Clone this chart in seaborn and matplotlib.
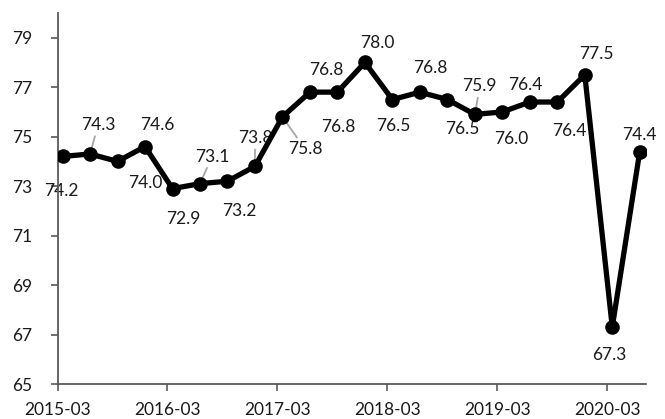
import matplotlib
matplotlib.use("Agg")
import matplotlib.pyplot as plt
import seaborn as sns
import pandas as pd

# ---- data ----
quarters = ["2015-03", "2015-06", "2015-09", "2015-12",
            "2016-03", "2016-06", "2016-09", "2016-12",
            "2017-03", "2017-06", "2017-09", "2017-12",
            "2018-03", "2018-06", "2018-09", "2018-12",
            "2019-03", "2019-06", "2019-09", "2019-12",
            "2020-03", "2020-06"]
values = [74.2, 74.3, 74.0, 74.6, 72.9, 73.1, 73.2, 73.8, 75.8, 76.8, 76.8,
          78.0, 76.5, 76.8, 76.5, 75.9, 76.0, 76.4, 76.4, 77.5, 67.3, 74.4]
tick_labels = ["2015-03", "2016-03", "2017-03", "2018-03", "2019-03", "2020-03"]
y_ticks = [65, 67, 69, 71, 73, 75, 77, 79]

# months since 2015-03 (points sit mid-month, ticks at month start)
xpos = [0.55 + 3 * i for i in range(len(values))]
tick_pos = [12 * i for i in range(len(tick_labels))]
df = pd.DataFrame({"x": xpos, "v": values, "q": quarters})

# label offsets in pixels (dx right, dy down) and whether a leader line is drawn
offsets = [(-1, 35), (8, -29), (27.5, 22), (12, -22), (10.5, 30), (12, -27),
           (11.5, 29.5), (0, -28), (22.5, 32), (16, -22), (0.5, 35), (12, -19),
           (0.5, 26), (10, -24), (14.5, 29), (5, -28), (8.5, 27), (-5, -17),
           (12.5, 29), (12, -21), (-2.5, 28), (0, -17)]
leaders = {1, 5, 7, 8, 15}

sns.set_theme(style="white")
plt.rcParams["font.family"] = ["Lato", "DejaVu Sans"]

fig = plt.figure(figsize=(6.65, 4.19), dpi=100)
ax = fig.add_axes([0.0865, 0.0835, 0.8845, 0.8855])

sns.lineplot(data=df, x="x", y="v", ax=ax, color="black", linewidth=3.8,
             marker="o", markersize=10.5, markeredgewidth=0, zorder=3)

for i, (x, v) in enumerate(zip(xpos, values)):
    dx, dy = offsets[i]
    kw = {}
    if i in leaders:
        kw["arrowprops"] = dict(arrowstyle="-", color="#a6a6a6", lw=1.3,
                                shrinkA=0, shrinkB=3)
    ax.annotate(f"{v:.1f}", xy=(x, v), xytext=(dx, -dy),
                textcoords="offset pixels", ha="center", va="center",
                fontsize=12.5, color="#1a1a1a", zorder=1, **kw)

ax.set_xlim(0, 64.2)
ax.set_ylim(65, 80)
ax.set_xticks(tick_pos)
ax.set_xticklabels(tick_labels)
ax.set_yticks(y_ticks)
ax.set_xlabel("")
ax.set_ylabel("")

for s in ["top", "right"]:
    ax.spines[s].set_visible(False)
for s in ["left", "bottom"]:
    ax.spines[s].set_color("#595959")
    ax.spines[s].set_linewidth(1.3)

ax.tick_params(axis="y", which="major", direction="out", length=5, width=1.2,
               color="#595959", left=True, pad=13, labelsize=12.5,
               labelcolor="#1a1a1a")
ax.tick_params(axis="x", which="major", direction="out", length=5, width=1.2,
               color="#595959", bottom=True, pad=8, labelsize=12.5,
               labelcolor="#1a1a1a")

fig.savefig("out.png", dpi=100)
